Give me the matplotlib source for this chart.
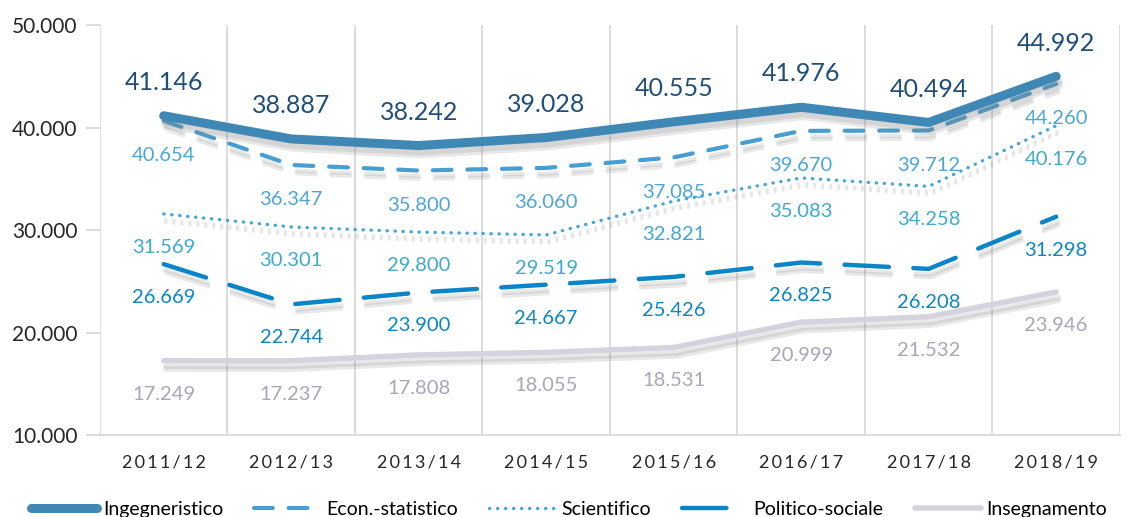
import numpy as np
import matplotlib.pyplot as plt
import matplotlib.patheffects as pe
from matplotlib.lines import Line2D
from matplotlib.ticker import FuncFormatter

plt.rcParams['font.family'] = ['Lato', 'DejaVu Sans']

# Dati
anni = ['2011/12', '2012/13', '2013/14', '2014/15', '2015/16', '2016/17', '2017/18', '2018/19']
ingegneristico = [41146, 38887, 38242, 39028, 40555, 41976, 40494, 44992]
econ_statistico = [40654, 36347, 35800, 36060, 37085, 39670, 39712, 44260]
scientifico = [31569, 30301, 29800, 29519, 32821, 35083, 34258, 40176]
politico_sociale = [26669, 22744, 23900, 24667, 25426, 26825, 26208, 31298]
insegnamento = [17249, 17237, 17808, 18055, 18531, 20999, 21532, 23946]


def fmt(v):
    return f'{v:,.0f}'.replace(',', '.')


fig = plt.figure(figsize=(11.27, 5.17), dpi=100)
ax = fig.add_axes([0.0887, 0.1586, 0.905, 0.793])
x = np.arange(len(anni))

ombra = [pe.SimpleLineShadow(offset=(1.5, -6), shadow_color='#808080', alpha=0.18),
         pe.SimpleLineShadow(offset=(1.5, -4), shadow_color='#808080', alpha=0.18),
         pe.Normal()]

serie = [
    ('Ingegneristico', ingegneristico, '#3F87B4', 6.5, '-', '#1F4E79', 18, 24),
    ('Econ.-statistico', econ_statistico, '#479ED2', 3.0, (0, (4.5, 3.8)), '#4BA6DA', 14.5, -25),
    ('Scientifico', scientifico, '#46A7DA', 2.4, (0, (0.1, 2.3)), '#3FA9CF', 14.5, -24),
    ('Politico-sociale', politico_sociale, '#0A85C7', 3.2, (0, (10, 5.5)), '#0A85C7', 14.5, -24),
    ('Insegnamento', insegnamento, '#D5D3DE', 4.0, '-', '#A8A6B8', 14.5, -24),
]

handles = []
for nome, vals, col, lw, ls, lcol, fs, dy in serie[::-1]:
    ax.plot(x, vals, color=col, lw=lw, ls=ls,
            solid_capstyle='round', dash_capstyle='round', path_effects=ombra)
    for xi, v in zip(x, vals):
        ax.annotate(fmt(v), (xi, v), xytext=(0, dy), textcoords='offset points',
                    ha='center', va='center', color=lcol, fontsize=fs)
for nome, vals, col, lw, ls, lcol, fs, dy in serie:
    handles.append(Line2D([], [], color=col, lw=lw, ls=ls, label=nome,
                          solid_capstyle='round', dash_capstyle='round'))

ax.set_xlim(-0.5, 7.5)
ax.set_ylim(10000, 50000)
ax.set_yticks(range(10000, 50001, 10000))
ax.yaxis.set_major_formatter(FuncFormatter(lambda v, p: fmt(v)))
ax.set_xticks(x)
ax.set_xticklabels(['\u2009'.join(a) for a in anni])
for lab in ax.get_xticklabels():
    lab.set_fontsize(13)
    lab.set_color('#262626')
for lab in ax.get_yticklabels():
    lab.set_fontsize(15)
    lab.set_color('#262626')

for b in np.arange(-0.5, 8, 1):
    ax.axvline(b, color='#D9D9D9', lw=1.3, zorder=0)
for s in ['top', 'right', 'left']:
    ax.spines[s].set_visible(False)
ax.spines['bottom'].set_color('#D9D9D9')
ax.spines['bottom'].set_linewidth(1.3)
ax.tick_params(axis='x', length=0, pad=14)
ax.tick_params(axis='y', length=10, color='#D9D9D9', width=1.3, pad=6)

fig.legend(handles=handles, loc='lower center', bbox_to_anchor=(0.505, -0.035), ncol=5,
           frameon=False, fontsize=14, handlelength=3.4, columnspacing=1.6, handletextpad=0.3)

fig.savefig('out.png', dpi=100)
